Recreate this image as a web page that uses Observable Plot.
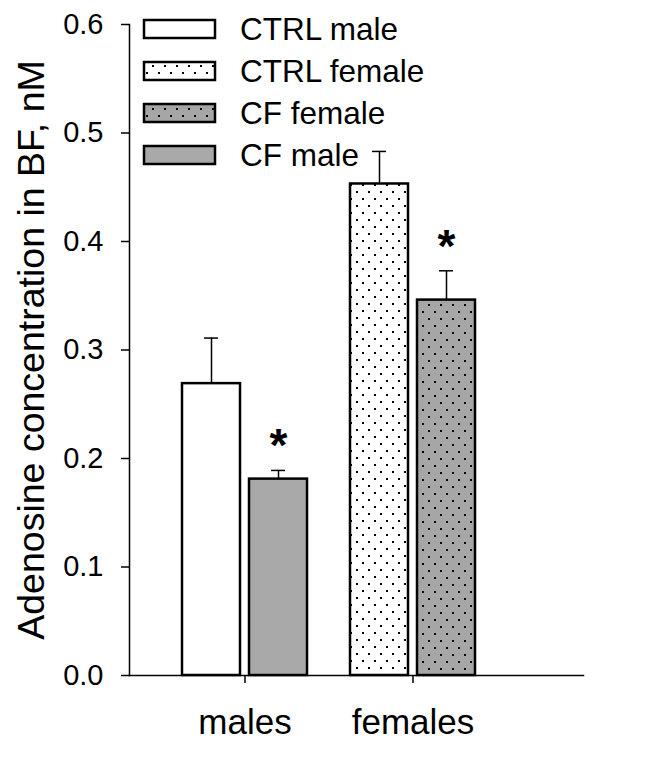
<!DOCTYPE html>
<html><head><meta charset="utf-8">
<script src="https://cdn.jsdelivr.net/npm/d3@7"></script>
<script src="https://cdn.jsdelivr.net/npm/@observablehq/plot@0.6"></script>
<style>
body{margin:0;background:#fff;}
#wrap{position:relative;width:649px;height:771px;font-family:"Liberation Sans",Arial,sans-serif;}
#wrap svg{position:absolute;left:0;top:0;}
</style></head><body>
<div id="wrap"></div>
<script>
const groups = ["males","males","females","females"];
const treatments = ["CTRL","CF","CTRL","CF"];
const means = [0.269, 0.181, 0.453, 0.346];
const sems = [0.042, 0.008, 0.030, 0.027];
const significant = [false, true, false, true];
const barFills = ["white", "#a9a9a9", "url(#dotsLight)", "url(#dotsDark)"];
const groupLabels = ["males","females"];
const yTicks = [0,0.1,0.2,0.3,0.4,0.5,0.6];
const legendLabels = ["CTRL male","CTRL female","CF female","CF male"];
const legendFills = ["white","url(#dotsLight)","url(#dotsDark)","#a9a9a9"];
const yLabel = "Adenosine concentration in BF, nM";

const data = groups.map((g,i)=>({group:g, treatment:treatments[i], mean:means[i], sem:sems[i], top:means[i]+sems[i], sig:significant[i], fill:barFills[i]}));
const ctrl = data.filter(d=>d.treatment==="CTRL");
const cf = data.filter(d=>d.treatment==="CF");

const wrap = d3.select("#wrap");

// pattern definitions
const defsSvg = wrap.append("svg").attr("width",0).attr("height",0);
const defs = defsSvg.append("defs");
function dots(id, bg, w, h, pts){
  const p = defs.append("pattern").attr("id",id).attr("patternUnits","userSpaceOnUse").attr("width",w).attr("height",h);
  p.append("rect").attr("width",w).attr("height",h).attr("fill",bg);
  pts.forEach(([x,y])=>p.append("rect").attr("x",x).attr("y",y).attr("width",2).attr("height",2).attr("fill","black"));
}
dots("dotsLight","white",12,14,[[2,2],[8,9]]);
dots("dotsDark","#a6a6a6",12,14,[[2,3],[8,10]]);

const font = '"Liberation Sans", Arial, sans-serif';
const chart = Plot.plot({
  width: 649, height: 771,
  marginTop: 24, marginBottom: 96, marginLeft: 129, marginRight: 66,
  style: {fontFamily: font, background: "transparent", color: "black", overflow: "visible"},
  x: {domain: groupLabels, paddingInner: 0.258, paddingOuter: 0.476, align: 0.33, axis: null},
  y: {domain: [0, 0.6], axis: null},
  color: {type: "identity"},
  marks: [
    Plot.barY(ctrl, {x: "group", y: "mean", fill: "fill", stroke: "black", strokeWidth: 2.5, insetRight: 67}),
    Plot.barY(cf, {x: "group", y: "mean", fill: "fill", stroke: "black", strokeWidth: 2.5, insetLeft: 67}),
    Plot.ruleX(ctrl, {x: "group", y1: "mean", y2: "top", dx: -33.5, stroke: "black", strokeWidth: 1.5}),
    Plot.ruleX(cf, {x: "group", y1: "mean", y2: "top", dx: 33.5, stroke: "black", strokeWidth: 1.5}),
    Plot.tickY(ctrl, {x: "group", y: "top", insetLeft: 22, insetRight: 89, stroke: "black", strokeWidth: 1.5}),
    Plot.tickY(cf, {x: "group", y: "top", insetLeft: 89, insetRight: 22, stroke: "black", strokeWidth: 1.5}),
    Plot.text(data.filter(d=>d.sig && d.treatment==="CF"), {x: "group", y: "top", text: () => "*", dx: 33.5, dy: -24, fontSize: 46, fontWeight: "bold", fill: "black"}),
    Plot.frame({anchor: "left", stroke: "black", strokeWidth: 1.5}),
    Plot.frame({anchor: "bottom", stroke: "black", strokeWidth: 1.5}),
    Plot.axisY({ticks: yTicks, tickFormat: d3.format(".1f"), tickSize: 8, tickPadding: 18, fontSize: 29, label: null, strokeWidth: 1.5}),
    Plot.axisX({tickSize: 8, tickPadding: 26, fontSize: 35, label: null, strokeWidth: 1.5}),
    Plot.text([yLabel], {frameAnchor: "left", rotate: -90, dx: -112, text: d => d, fontSize: 37.5, textAnchor: "middle", lineAnchor: "top", fill: "black"})
  ]
});
wrap.node().appendChild(chart);

// legend
const leg = wrap.append("svg").attr("width", 649).attr("height", 200).style("overflow","visible");
const rowY = [29, 71, 113, 155];
legendLabels.forEach((lab, i) => {
  leg.append("rect").attr("x", 144).attr("y", rowY[i] - 9).attr("width", 71).attr("height", 18)
    .attr("fill", legendFills[i]).attr("stroke", "black").attr("stroke-width", 2.5);
  leg.append("text").attr("x", 240).attr("y", rowY[i]).attr("dy", "0.36em")
    .attr("font-family", font).attr("font-size", 31.5).attr("fill", "black").text(lab);
});
</script>
</body></html>
